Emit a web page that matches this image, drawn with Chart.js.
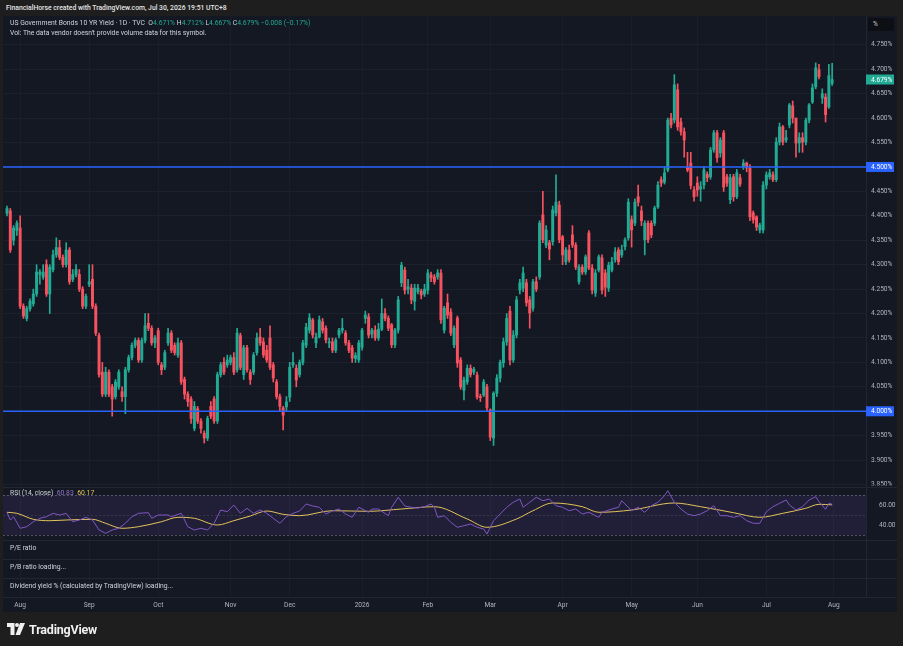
<!DOCTYPE html>
<html lang="en">
<head>
<meta charset="UTF-8">
<title>US Government Bonds 10 YR Yield</title>
<script src="https://cdn.jsdelivr.net/npm/chart.js@4.4.1/dist/chart.umd.min.js"></script>
<style>
  html, body { margin: 0; padding: 0; }
  body {
      width: 903px; height: 646px; overflow: hidden; position: relative;
      background: #1e1e1e; font-family: 'Roboto', sans-serif;
  }
  .title { position: absolute; left: 6px; top: 4px; font-size: 6.8px; font-weight: 500; color: #e6e6e6; white-space: nowrap; }
  #panel { position: absolute; left: 3px; top: 16px; width: 894px; height: 596px; background: #141823; }
  #chart { position: absolute; left: 0; top: 0; }
  .legend { position: absolute; left: 7px; font-size: 6.8px; line-height: 9px; color: #d1d4dc; white-space: nowrap; }
  .up { color: #22ab94; }
  .rsi-v { color: #9575cd; }
  .ma-v { color: #e3c35a; }
  .sep { position: absolute; left: 0; width: 894px; height: 1px; background: #222634; }
  .unit {
      position: absolute; left: 865px; top: 2px; width: 26px; height: 13px; border-radius: 2px;
      background: #0d0f15; color: #d1d4dc; font-size: 6.4px; line-height: 13px; text-indent: 5px;
  }
  .brand { position: absolute; left: 7px; top: 621px; height: 16px; display: flex; align-items: center; gap: 4px; }
  .brand span { font-size: 12.5px; font-weight: 700; color: #f0f0f0; letter-spacing: -0.2px; }
</style>
</head>
<body>
<div class="title">FinancialHorse created with TradingView.com, Jul 30, 2026 19:51 UTC+8</div>
<div id="panel">
  <canvas id="chart" width="894" height="596"></canvas>
  <div class="legend" id="ohlc" style="top:3px"></div>
  <div class="legend" style="top:13px">Vol: The data vendor doesn't provide volume data for this symbol.</div>
  <div class="unit">%</div>
  <div class="sep" style="top:471px"></div>
  <div class="legend" id="rsiLegend" style="top:473px"></div>
  <div class="sep" style="top:524px"></div>
  <div class="legend" style="top:528px">P/E ratio</div>
  <div class="sep" style="top:543px"></div>
  <div class="legend" style="top:547px">P/B ratio loading...</div>
  <div class="sep" style="top:562px"></div>
  <div class="legend" style="top:566px">Dividend yield % (calculated by TradingView) loading...</div>
  <div class="sep" style="top:581px"></div>
</div>
<div class="brand">
  <svg width="18" height="12" viewBox="0 0 18 12">
    <path d="M0 0 H7.5 V12 H3.5 V4 H0 Z" fill="#f0f0f0"/>
    <circle cx="10" cy="2" r="2" fill="#f0f0f0"/>
    <path d="M13 0 H18 L13 12 H8.5 Z" fill="#f0f0f0"/>
  </svg>
  <span>TradingView</span>
</div>
<script>
// daily candles, one per trading day from late Jul 2025 to Jul 29 2026 (bar index = position)
const opens = [
  4.405, 4.41, 4.35, 4.37, 4.375, 4.215, 4.19, 4.21, 4.22, 4.24,
  4.28, 4.275, 4.30, 4.24, 4.29, 4.32, 4.335, 4.315, 4.30, 4.33,
  4.27, 4.28, 4.28, 4.25, 4.215, 4.26, 4.27, 4.215, 4.155, 4.08,
  4.035, 4.08, 4.05, 4.03, 4.05, 4.04, 4.03, 4.085, 4.11, 4.135,
  4.145, 4.105, 4.145, 4.18, 4.17, 4.14, 4.165, 4.095, 4.09, 4.14,
  4.16, 4.135, 4.115, 4.14, 4.065, 4.035, 4.025, 3.965, 4.005, 3.98,
  3.955, 3.945, 4.01, 4.025, 3.98, 4.075, 4.10, 4.095, 4.10, 4.11,
  4.085, 4.155, 4.075, 4.13, 4.08, 4.08, 4.12, 4.152, 4.142, 4.125,
  4.15, 4.095, 4.06, 4.03, 4.007, 4.009, 4.029, 4.095, 4.088, 4.075,
  4.10, 4.135, 4.166, 4.187, 4.14, 4.152, 4.183, 4.17, 4.14, 4.142,
  4.125, 4.156, 4.166, 4.16, 4.14, 4.13, 4.108, 4.105, 4.131, 4.19,
  4.193, 4.158, 4.166, 4.15, 4.168, 4.20, 4.19, 4.177, 4.136, 4.166,
  4.263, 4.289, 4.25, 4.252, 4.225, 4.245, 4.246, 4.24, 4.248, 4.279,
  4.275, 4.275, 4.283, 4.166, 4.222, 4.203, 4.136, 4.191, 4.105, 4.043,
  4.06, 4.088, 4.08, 4.074, 4.03, 4.033, 4.05, 4.003, 3.945, 4.037,
  4.068, 4.099, 4.142, 4.205, 4.105, 4.156, 4.248, 4.252, 4.263, 4.228,
  4.211, 4.265, 4.275, 4.402, 4.34, 4.345, 4.347, 4.406, 4.422, 4.357,
  4.306, 4.33, 4.361, 4.34, 4.265, 4.295, 4.285, 4.365, 4.293, 4.242,
  4.289, 4.314, 4.283, 4.252, 4.289, 4.31, 4.33, 4.32, 4.337, 4.355,
  4.392, 4.385, 4.439, 4.41, 4.351, 4.385, 4.385, 4.385, 4.418, 4.474,
  4.469, 4.494, 4.60, 4.596, 4.658, 4.592, 4.572, 4.50, 4.508, 4.453,
  4.467, 4.455, 4.463, 4.485, 4.48, 4.535, 4.57, 4.529, 4.57, 4.48,
  4.433, 4.48, 4.439, 4.478, 4.50, 4.508, 4.498, 4.406, 4.398, 4.371,
  4.371, 4.463, 4.48, 4.484, 4.474, 4.551, 4.582, 4.555, 4.586, 4.625,
  4.60, 4.549, 4.56, 4.551, 4.596, 4.633, 4.664, 4.699, 4.641, 4.643,
  4.623, 4.671
];
const highs = [
  4.42, 4.415, 4.38, 4.39, 4.40, 4.22, 4.215, 4.23, 4.25, 4.30,
  4.29, 4.30, 4.31, 4.30, 4.33, 4.355, 4.35, 4.32, 4.345, 4.335,
  4.29, 4.30, 4.29, 4.255, 4.24, 4.30, 4.30, 4.22, 4.16, 4.10,
  4.09, 4.085, 4.055, 4.065, 4.085, 4.05, 4.09, 4.115, 4.14, 4.15,
  4.15, 4.15, 4.20, 4.20, 4.175, 4.155, 4.17, 4.10, 4.125, 4.17,
  4.165, 4.14, 4.15, 4.145, 4.07, 4.04, 4.03, 4.02, 4.01, 3.985,
  3.96, 3.99, 4.02, 4.03, 4.08, 4.10, 4.11, 4.115, 4.115, 4.12,
  4.17, 4.16, 4.135, 4.135, 4.085, 4.12, 4.16, 4.17, 4.15, 4.135,
  4.175, 4.10, 4.065, 4.035, 4.01, 4.03, 4.10, 4.12, 4.095, 4.105,
  4.145, 4.18, 4.20, 4.19, 4.16, 4.195, 4.19, 4.175, 4.15, 4.15,
  4.15, 4.17, 4.19, 4.165, 4.145, 4.135, 4.12, 4.145, 4.17, 4.205,
  4.20, 4.17, 4.175, 4.18, 4.23, 4.21, 4.195, 4.18, 4.17, 4.235,
  4.305, 4.295, 4.27, 4.26, 4.26, 4.26, 4.25, 4.26, 4.29, 4.285,
  4.28, 4.29, 4.29, 4.215, 4.24, 4.21, 4.175, 4.195, 4.11, 4.07,
  4.095, 4.095, 4.09, 4.08, 4.035, 4.065, 4.055, 4.005, 4.04, 4.075,
  4.105, 4.15, 4.20, 4.215, 4.165, 4.235, 4.27, 4.295, 4.27, 4.235,
  4.27, 4.275, 4.39, 4.45, 4.38, 4.35, 4.42, 4.484, 4.43, 4.36,
  4.335, 4.34, 4.38, 4.345, 4.30, 4.30, 4.32, 4.37, 4.30, 4.29,
  4.32, 4.32, 4.29, 4.305, 4.315, 4.335, 4.335, 4.34, 4.355, 4.435,
  4.40, 4.435, 4.463, 4.42, 4.39, 4.39, 4.39, 4.42, 4.47, 4.48,
  4.50, 4.60, 4.61, 4.689, 4.67, 4.60, 4.58, 4.53, 4.53, 4.46,
  4.48, 4.47, 4.50, 4.49, 4.54, 4.575, 4.575, 4.56, 4.575, 4.485,
  4.485, 4.485, 4.495, 4.485, 4.515, 4.51, 4.505, 4.41, 4.40, 4.385,
  4.47, 4.49, 4.495, 4.49, 4.56, 4.59, 4.585, 4.575, 4.63, 4.635,
  4.60, 4.57, 4.57, 4.60, 4.63, 4.67, 4.713, 4.71, 4.66, 4.65,
  4.71, 4.712
];
const lows = [
  4.40, 4.325, 4.34, 4.36, 4.21, 4.19, 4.185, 4.205, 4.215, 4.235,
  4.26, 4.27, 4.235, 4.20, 4.285, 4.315, 4.31, 4.295, 4.295, 4.26,
  4.265, 4.275, 4.245, 4.21, 4.21, 4.255, 4.21, 4.155, 4.07, 4.03,
  4.03, 4.03, 3.99, 4.025, 4.045, 4.02, 3.995, 4.08, 4.105, 4.13,
  4.10, 4.10, 4.14, 4.165, 4.135, 4.13, 4.095, 4.075, 4.085, 4.135,
  4.12, 4.115, 4.11, 4.055, 4.025, 4.01, 3.975, 3.96, 3.975, 3.955,
  3.935, 3.94, 3.985, 3.975, 3.975, 4.07, 4.075, 4.09, 4.095, 4.075,
  4.08, 4.085, 4.065, 4.08, 4.055, 4.075, 4.115, 4.135, 4.11, 4.10,
  4.085, 4.06, 4.025, 4.00, 3.962, 4.00, 4.02, 4.09, 4.05, 4.07,
  4.095, 4.13, 4.16, 4.15, 4.13, 4.15, 4.16, 4.14, 4.13, 4.12,
  4.12, 4.15, 4.16, 4.135, 4.12, 4.10, 4.10, 4.10, 4.125, 4.18,
  4.15, 4.15, 4.145, 4.145, 4.165, 4.185, 4.165, 4.13, 4.13, 4.16,
  4.255, 4.24, 4.24, 4.22, 4.207, 4.24, 4.23, 4.235, 4.24, 4.265,
  4.26, 4.27, 4.18, 4.16, 4.19, 4.155, 4.13, 4.09, 4.045, 4.023,
  4.055, 4.07, 4.075, 4.025, 4.02, 4.03, 4.00, 3.94, 3.93, 4.03,
  4.06, 4.09, 4.135, 4.095, 4.10, 4.15, 4.24, 4.245, 4.215, 4.17,
  4.205, 4.245, 4.27, 4.345, 4.335, 4.31, 4.34, 4.40, 4.345, 4.30,
  4.30, 4.305, 4.335, 4.29, 4.26, 4.28, 4.28, 4.29, 4.24, 4.235,
  4.285, 4.24, 4.235, 4.245, 4.285, 4.305, 4.30, 4.315, 4.33, 4.35,
  4.336, 4.38, 4.42, 4.38, 4.32, 4.345, 4.355, 4.38, 4.415, 4.46,
  4.465, 4.49, 4.58, 4.59, 4.575, 4.565, 4.52, 4.49, 4.455, 4.43,
  4.44, 4.43, 4.455, 4.47, 4.475, 4.53, 4.51, 4.52, 4.45, 4.46,
  4.425, 4.43, 4.435, 4.46, 4.495, 4.49, 4.39, 4.385, 4.37, 4.365,
  4.365, 4.455, 4.475, 4.47, 4.47, 4.545, 4.545, 4.55, 4.58, 4.59,
  4.52, 4.53, 4.53, 4.545, 4.59, 4.63, 4.66, 4.68, 4.63, 4.592,
  4.62, 4.667
];
const closes = [
  4.415, 4.33, 4.375, 4.385, 4.215, 4.195, 4.21, 4.225, 4.24, 4.285,
  4.285, 4.285, 4.24, 4.295, 4.32, 4.335, 4.315, 4.30, 4.33, 4.265,
  4.28, 4.29, 4.25, 4.215, 4.235, 4.265, 4.215, 4.16, 4.075, 4.035,
  4.08, 4.035, 4.025, 4.06, 4.08, 4.03, 4.085, 4.11, 4.135, 4.145,
  4.105, 4.145, 4.175, 4.17, 4.14, 4.15, 4.10, 4.085, 4.12, 4.16,
  4.125, 4.12, 4.14, 4.06, 4.035, 4.02, 3.985, 4.01, 3.98, 3.965,
  3.945, 3.985, 3.99, 3.98, 4.075, 4.095, 4.08, 4.105, 4.11, 4.08,
  4.16, 4.09, 4.13, 4.085, 4.065, 4.115, 4.15, 4.14, 4.115, 4.105,
  4.09, 4.068, 4.03, 4.01, 3.992, 4.019, 4.09, 4.10, 4.064, 4.10,
  4.14, 4.172, 4.191, 4.156, 4.152, 4.187, 4.166, 4.146, 4.142, 4.125,
  4.146, 4.166, 4.17, 4.14, 4.125, 4.109, 4.114, 4.14, 4.166, 4.197,
  4.156, 4.166, 4.15, 4.168, 4.20, 4.19, 4.17, 4.136, 4.166, 4.228,
  4.299, 4.248, 4.255, 4.228, 4.252, 4.252, 4.238, 4.25, 4.283, 4.273,
  4.265, 4.283, 4.187, 4.211, 4.197, 4.16, 4.17, 4.099, 4.05, 4.064,
  4.088, 4.075, 4.086, 4.029, 4.028, 4.06, 4.007, 3.947, 4.037, 4.068,
  4.10, 4.142, 4.19, 4.105, 4.156, 4.228, 4.263, 4.283, 4.222, 4.201,
  4.265, 4.25, 4.385, 4.351, 4.371, 4.332, 4.412, 4.428, 4.351, 4.32,
  4.33, 4.31, 4.34, 4.295, 4.295, 4.285, 4.316, 4.293, 4.248, 4.283,
  4.316, 4.248, 4.254, 4.299, 4.306, 4.326, 4.306, 4.33, 4.351, 4.428,
  4.371, 4.428, 4.428, 4.39, 4.385, 4.351, 4.361, 4.416, 4.463, 4.467,
  4.488, 4.596, 4.586, 4.668, 4.582, 4.572, 4.555, 4.494, 4.462, 4.439,
  4.453, 4.46, 4.494, 4.478, 4.535, 4.57, 4.519, 4.555, 4.459, 4.467,
  4.478, 4.439, 4.488, 4.465, 4.508, 4.498, 4.398, 4.392, 4.377, 4.381,
  4.463, 4.484, 4.488, 4.474, 4.551, 4.582, 4.551, 4.56, 4.627, 4.60,
  4.549, 4.56, 4.551, 4.596, 4.627, 4.662, 4.703, 4.685, 4.65, 4.607,
  4.687, 4.679
];

const rsiIdx = [0,1,2,4,6,8,10,12,14,16,18,20,22,24,26,28,30,32,34,36,38,40,43,44,46,49,50,53,55,57,
  59,61,63,65,67,69,71,73,75,77,79,81,83,85,87,89,91,93,95,97,99,101,103,105,107,110,111,113,116,117,
  119,121,123,125,127,129,130,131,133,135,137,139,141,143,145,146,148,150,152,154,156,157,159,161,163,165,167,169,171,173,
  175,177,180,181,184,186,187,190,192,194,196,198,200,201,203,205,207,209,211,213,215,217,219,221,223,225,227,229,231,233,
  235,237,238,240,242,244,246,247,249,250,251];
const rsiVal = [52.7,45,48.3,36.7,38.3,43.3,46.7,48.3,51.7,50,51.7,43.3,45,47.7,45,35,31.7,35,36.7,41.7,48.3,51.7,52.3,46.7,50,50,48.3,51.7,38.3,35,
  36.7,35,41.7,55,53.3,60,51.7,56.7,51.7,55,51.7,46.7,41.7,48.3,51.7,54,61,59,57.7,51,54,56,51,47.7,57.7,52.7,56,56,49.3,57.7,
  67.7,59,57.7,57,58.3,61,57.7,47.7,49.3,42.7,37.7,39.3,41,37.7,36,31,44.3,51,57.7,62.7,66,57.7,62.7,67.7,64.3,66,59.3,57.7,54.3,56,
  51,52.7,47.7,52.7,56,57.7,64.3,54.3,57.7,52.7,59.3,62.7,69.3,74.3,62.7,56,51,49.3,51,54.3,59.3,49.3,49.3,47.7,49.3,44.3,41.7,41.7,53.3,58.3,
  61.7,65,60,55,58.3,65,68.3,63.3,55.7,61.7,60.83];
const maIdx = [0,3,8,13,18,26,30,35,40,47,52,57,64,69,74,79,84,89,99,110,120,130,140,146,155,160,166,175,180,190,203,211,221,229,236,243,247,251];
const maVal = [52.7,51.7,45.7,44.3,45,45.7,41.7,36.7,38.3,43.3,47.7,46.7,40,44.3,49,54,50.7,49.3,54.3,53.7,56,58.3,46,37.7,46,54.3,62,58.3,52.7,55,62,58.3,52.3,47.7,51.7,56.7,60.7,60.17];

// horizontal levels drawn on the chart
const levels = [4.5, 4.0];

// axis ticks
const priceTicks = [3.85, 3.90, 3.95, 4.00, 4.05, 4.10, 4.15, 4.20, 4.25, 4.30, 4.35, 4.40, 4.45, 4.50, 4.55, 4.60, 4.65, 4.70, 4.75];
const rsiTicks = [40, 60];
const rsiBand = [30, 50, 70];
const monthIdx = [4, 25, 46, 68, 86, 108, 128, 147, 169, 190, 210, 231, 251.5];
const monthLabels = ['Aug', 'Sep', 'Oct', 'Nov', 'Dec', '2026', 'Feb', 'Mar', 'Apr', 'May', 'Jun', 'Jul', 'Aug'];

const UP = '#22ab94';
const DOWN = '#f7525f';
const PANE_BG = '#141823';
const TICK = '#b2b5be';
const FS = 6.6;

const last = closes.length - 1;
const candleColors = closes.map((c, i) => c >= opens[i] ? UP : DOWN);

// header legends
const pct = v => v.toFixed(3) + '%';
const chg = closes[last] - closes[last - 1];
const sign = v => (v < 0 ? '\u2212' : '+') + Math.abs(v).toFixed(3);
document.getElementById('ohlc').innerHTML =
    'US Government Bonds 10 YR Yield \u00b7 1D \u00b7 TVC&nbsp; ' +
    'O<span class="up">' + pct(opens[last]) + '</span> ' +
    'H<span class="up">' + pct(highs[last]) + '</span> ' +
    'L<span class="up">' + pct(lows[last]) + '</span> ' +
    'C<span class="up">' + pct(closes[last]) + '</span> ' +
    '<span class="up">' + sign(chg) + ' (' + (chg < 0 ? '\u2212' : '+') + Math.abs(chg / closes[last - 1] * 100).toFixed(2) + '%)</span>';
document.getElementById('rsiLegend').innerHTML =
    'RSI (14, close)&nbsp; <span class="rsi-v">' + rsiVal[rsiVal.length - 1].toFixed(2) + '</span>&nbsp; ' +
    '<span class="ma-v">' + maVal[maVal.length - 1].toFixed(2) + '</span>';

const rsiDecor = {
    id: 'rsiDecor',
    beforeDatasetsDraw(chart) {
        const { ctx, chartArea } = chart;
        const r = chart.scales.rsi;
        const top = r.getPixelForValue(rsiBand[2]);
        const bot = r.getPixelForValue(rsiBand[0]);
        ctx.save();
        ctx.fillStyle = 'rgba(126, 87, 194, 0.13)';
        ctx.fillRect(chartArea.left, top, chartArea.width, bot - top);
        ctx.setLineDash([2, 2]);
        ctx.lineWidth = 1;
        rsiBand.forEach((v, k) => {
            const y = Math.round(r.getPixelForValue(v)) + 0.5;
            ctx.strokeStyle = k === 1 ? 'rgba(120, 123, 134, 0.25)' : 'rgba(120, 123, 134, 0.6)';
            ctx.beginPath();
            ctx.moveTo(chartArea.left, y);
            ctx.lineTo(chartArea.right, y);
            ctx.stroke();
        });
        ctx.restore();
    }
};

const axisTags = {
    id: 'axisTags',
    afterDraw(chart) {
        const { ctx, chartArea } = chart;
        const y = chart.scales.y;
        ctx.save();
        // the lowest price label is cut by the pane border
        ctx.fillStyle = PANE_BG;
        ctx.fillRect(chartArea.right + 1, y.bottom - 1.5, chart.width - chartArea.right, 5);
        ctx.font = FS + 'px Roboto';
        ctx.textBaseline = 'middle';
        const tag = (value, bg) => {
            const py = y.getPixelForValue(value);
            ctx.fillStyle = bg;
            ctx.fillRect(chartArea.right, py - 5, 28, 10);
            ctx.fillStyle = '#ffffff';
            ctx.fillText(pct(value), chartArea.right + 5, py + 0.5);
        };
        levels.forEach(v => tag(v, '#2962ff'));
        tag(closes[last], UP);
        ctx.restore();
    }
};

// keep the panes flush with the canvas edges: no room reserved for half labels
const fixWidth = s => { s.width = 31; s.paddingTop = 0; s.paddingBottom = 0; };

new Chart(document.getElementById('chart'), {
    type: 'bar',
    data: {
        datasets: [
            ...levels.map(v => ({
                type: 'line',
                data: [{ x: -5, y: v }, { x: 270, y: v }],
                borderColor: '#2962ff',
                borderWidth: 1.4,
                pointRadius: 0,
                yAxisID: 'y',
                order: 0
            })),
            {
                type: 'bar',
                data: opens.map((o, i) => ({ x: i, y: [o, closes[i]] })),
                backgroundColor: candleColors,
                barThickness: 2.3,
                minBarLength: 1,
                grouped: false,
                yAxisID: 'y',
                order: 2
            },
            {
                type: 'bar',
                data: lows.map((l, i) => ({ x: i, y: [l, highs[i]] })),
                backgroundColor: candleColors,
                barThickness: 1,
                grouped: false,
                yAxisID: 'y',
                order: 3
            },
            {
                type: 'line',
                data: rsiIdx.map((x, k) => ({ x, y: rsiVal[k] })),
                borderColor: '#7e57c2',
                borderWidth: 1,
                pointRadius: 0,
                tension: 0,
                yAxisID: 'rsi',
                order: 1
            },
            {
                type: 'line',
                data: maIdx.map((x, k) => ({ x, y: maVal[k] })),
                borderColor: '#e3c35a',
                borderWidth: 1,
                pointRadius: 0,
                cubicInterpolationMode: 'monotone',
                yAxisID: 'rsi',
                order: 1
            }
        ]
    },
    options: {
        responsive: false,
        animation: false,
        layout: { padding: 0 },
        plugins: { legend: { display: false }, tooltip: { enabled: false } },
        scales: {
            x: {
                type: 'linear',
                min: -1.22,
                max: 261.3,
                offset: false,
                afterBuildTicks: s => { s.ticks = monthIdx.map(v => ({ value: v })); },
                afterFit: s => { s.height = 15; s.paddingLeft = 0; s.paddingRight = 0; },
                grid: { color: '#1a1e2a', drawTicks: false, offset: false },
                border: { display: false },
                ticks: {
                    color: TICK,
                    font: { size: FS, family: 'Roboto' },
                    padding: 4,
                    maxRotation: 0,
                    autoSkip: false,
                    callback: (v, i) => monthLabels[i]
                }
            },
            y: {
                position: 'right',
                stack: 'panes',
                stackWeight: 471,
                min: 3.845,
                max: 4.809,
                afterBuildTicks: s => { s.ticks = priceTicks.map(v => ({ value: v })); },
                afterFit: fixWidth,
                grid: { color: '#1c202d', drawTicks: false },
                border: { color: '#222634' },
                ticks: {
                    color: TICK,
                    font: { size: FS, family: 'Roboto' },
                    padding: 5,
                    callback: v => pct(v)
                }
            },
            rsi: {
                position: 'right',
                stack: 'panes',
                stackWeight: 53,
                min: 25,
                max: 78,
                afterBuildTicks: s => { s.ticks = rsiTicks.map(v => ({ value: v })); },
                afterFit: fixWidth,
                grid: { display: false },
                border: { color: '#222634' },
                ticks: {
                    color: TICK,
                    font: { size: FS, family: 'Roboto' },
                    padding: 5,
                    callback: v => v.toFixed(2)
                }
            },
            info: {
                position: 'right',
                stack: 'panes',
                stackWeight: 57,
                min: 0,
                max: 1,
                afterFit: fixWidth,
                grid: { display: false },
                border: { color: '#222634' },
                ticks: { display: false }
            }
        }
    },
    plugins: [rsiDecor, axisTags]
});
</script>
</body>
</html>
